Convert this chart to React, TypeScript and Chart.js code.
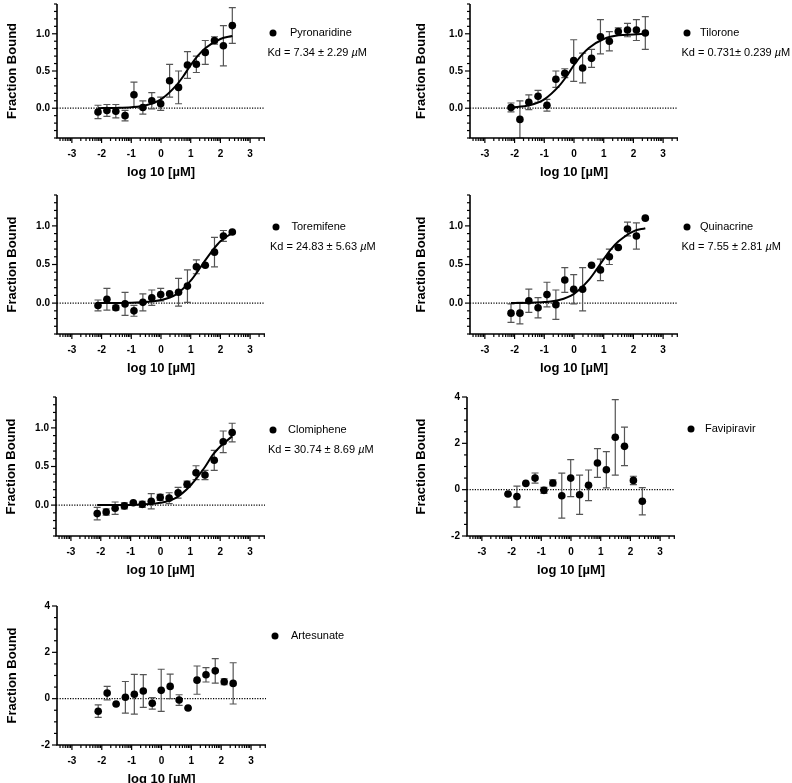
import React, { useEffect, useRef } from "react";
import { Chart, registerables } from "chart.js";
Chart.register(...registerables);

// ---- data ----
const logConc = [-2.12, -1.82, -1.52, -1.21, -0.91, -0.61, -0.31, -0.01, 0.29, 0.59, 0.89, 1.19, 1.49, 1.8, 2.1, 2.4];

const pyronaridineY = [-0.05, -0.03, -0.04, -0.1, 0.18, 0.01, 0.1, 0.06, 0.37, 0.28, 0.58, 0.59, 0.75, 0.91, 0.84, 1.11];
const pyronaridineErr = [0.09, 0.08, 0.09, 0.07, 0.17, 0.09, 0.11, 0.09, 0.22, 0.22, 0.18, 0.11, 0.16, 0.05, 0.27, 0.24];
const pyronaridineCurveX = [-2.12, -1.5, -1, -0.5, 0, 0.5, 0.75, 1, 1.25, 1.5, 2, 2.4];
const pyronaridineCurveY = [0.001, 0.004, 0.013, 0.041, 0.12, 0.3, 0.43, 0.58, 0.71, 0.81, 0.93, 0.97];

const tiloroneY = [0.01, -0.15, 0.08, 0.16, 0.04, 0.39, 0.47, 0.64, 0.54, 0.67, 0.96, 0.9, 1.03, 1.05, 1.05, 1.01];
const tiloroneErr = [0.06, 0.25, 0.1, 0.08, 0.08, 0.11, 0.06, 0.28, 0.2, 0.12, 0.23, 0.13, 0.05, 0.09, 0.14, 0.22];
const tiloroneCurveX = [-2.12, -1.5, -1, -0.5, -0.25, 0, 0.25, 0.5, 1, 1.5, 2, 2.4];
const tiloroneCurveY = [0.01, 0.04, 0.12, 0.3, 0.43, 0.58, 0.71, 0.81, 0.93, 0.98, 0.99, 1.0];

const toremifeneY = [-0.03, 0.05, -0.06, -0.01, -0.1, 0.01, 0.07, 0.11, 0.12, 0.14, 0.22, 0.47, 0.49, 0.66, 0.87, 0.92];
const toremifeneErr = [0.07, 0.14, 0.03, 0.15, 0.07, 0.11, 0.1, 0.08, 0.01, 0.18, 0.21, 0.09, 0.01, 0.19, 0.07, 0.01];
const toremifeneCurveX = [-2.12, -1, 0, 0.5, 1, 1.25, 1.5, 1.75, 2, 2.4];
const toremifeneCurveY = [0.0, 0.004, 0.04, 0.11, 0.29, 0.42, 0.56, 0.69, 0.8, 0.91];

const quinacrineY = [-0.13, -0.13, 0.03, -0.06, 0.11, -0.02, 0.3, 0.18, 0.18, 0.49, 0.43, 0.6, 0.72, 0.96, 0.87, 1.1];
const quinacrineErr = [0.12, 0.14, 0.15, 0.13, 0.16, 0.19, 0.16, 0.19, 0.28, 0.01, 0.14, 0.1, 0.01, 0.09, 0.17, 0.01];
const quinacrineCurveX = [-2.12, -1.5, -1, -0.5, 0, 0.5, 0.75, 1, 1.25, 1.5, 2, 2.4];
const quinacrineCurveY = [0.001, 0.004, 0.013, 0.04, 0.12, 0.3, 0.43, 0.57, 0.7, 0.8, 0.93, 0.97];

const clomipheneY = [-0.11, -0.09, -0.04, -0.01, 0.03, 0.01, 0.05, 0.1, 0.09, 0.16, 0.27, 0.42, 0.39, 0.58, 0.82, 0.94];
const clomipheneErr = [0.08, 0.04, 0.08, 0.04, 0.01, 0.04, 0.1, 0.04, 0.07, 0.07, 0.04, 0.09, 0.06, 0.13, 0.14, 0.12];
const clomipheneCurveX = [-2.12, -1, 0, 0.5, 1, 1.25, 1.5, 1.75, 2, 2.4];
const clomipheneCurveY = [0.0, 0.003, 0.03, 0.09, 0.25, 0.37, 0.5, 0.65, 0.76, 0.89];

const favipiravirY = [-0.19, -0.3, 0.27, 0.5, -0.03, 0.29, -0.26, 0.5, -0.22, 0.19, 1.15, 0.86, 2.26, 1.87, 0.4, -0.5];
const favipiravirErr = [0.02, 0.45, 0.02, 0.22, 0.13, 0.13, 0.97, 0.8, 0.85, 0.66, 0.62, 0.78, 1.63, 0.83, 0.18, 0.59];

const artesunateY = [-0.54, 0.24, -0.23, 0.06, 0.19, 0.33, -0.2, 0.36, 0.53, -0.06, -0.4, 0.8, 1.03, 1.2, 0.73, 0.66];
const artesunateErr = [0.27, 0.29, 0.02, 0.68, 0.86, 0.71, 0.25, 0.91, 0.53, 0.23, 0.02, 0.61, 0.31, 0.53, 0.13, 0.89];

const xMajorTicks = [-3, -2, -1, 0, 1, 2, 3];
const xMinorOffsets = [0.301, 0.477, 0.602, 0.699, 0.778, 0.845, 0.903, 0.954];
const fracTicks = [0, 0.5, 1.0];
const fracLabels = ["0.0", "0.5", "1.0"];
const wideTicks = [-2, 0, 2, 4];
const wideLabels = ["-2", "0", "2", "4"];

const xTitle = "log 10 [\u00b5M]";
const yTitle = "Fraction Bound";

type Rect = { l: number; t: number; r: number; b: number };
type Panel = {
  name: string;
  values: number[];
  errors: number[];
  curveX?: number[];
  curveY?: number[];
  kd?: string;
  yMin: number;
  yMax: number;
  yMinor: number;
  yMajor: number[];
  yLabels: string[];
  plot: Rect;
  yTitleX: number;
  legend: { dotX: number; dotY: number; textX: number; kdX?: number; kdY?: number };
};

const panels: Panel[] = [
  {
    name: "Pyronaridine", values: pyronaridineY, errors: pyronaridineErr,
    curveX: pyronaridineCurveX, curveY: pyronaridineCurveY, kd: "Kd = 7.34 \u00b1 2.29 ",
    yMin: -0.4, yMax: 1.4, yMinor: 0.1, yMajor: fracTicks, yLabels: fracLabels,
    plot: { l: 57, t: 1, r: 265, b: 138 }, yTitleX: 12,
    legend: { dotX: 273, dotY: 33, textX: 290, kdX: 267.5, kdY: 53 },
  },
  {
    name: "Tilorone", values: tiloroneY, errors: tiloroneErr,
    curveX: tiloroneCurveX, curveY: tiloroneCurveY, kd: "Kd = 0.731\u00b1 0.239 ",
    yMin: -0.4, yMax: 1.4, yMinor: 0.1, yMajor: fracTicks, yLabels: fracLabels,
    plot: { l: 470, t: 1, r: 678, b: 138 }, yTitleX: 421,
    legend: { dotX: 687, dotY: 33, textX: 700, kdX: 681.5, kdY: 53 },
  },
  {
    name: "Toremifene", values: toremifeneY, errors: toremifeneErr,
    curveX: toremifeneCurveX, curveY: toremifeneCurveY, kd: "Kd = 24.83 \u00b1 5.63 ",
    yMin: -0.4, yMax: 1.4, yMinor: 0.1, yMajor: fracTicks, yLabels: fracLabels,
    plot: { l: 57, t: 195, r: 265, b: 334 }, yTitleX: 12,
    legend: { dotX: 276, dotY: 227, textX: 291.5, kdX: 270, kdY: 247 },
  },
  {
    name: "Quinacrine", values: quinacrineY, errors: quinacrineErr,
    curveX: quinacrineCurveX, curveY: quinacrineCurveY, kd: "Kd = 7.55 \u00b1 2.81 ",
    yMin: -0.4, yMax: 1.4, yMinor: 0.1, yMajor: fracTicks, yLabels: fracLabels,
    plot: { l: 470, t: 195, r: 678, b: 334 }, yTitleX: 421,
    legend: { dotX: 687, dotY: 227, textX: 700, kdX: 681.5, kdY: 247 },
  },
  {
    name: "Clomiphene", values: clomipheneY, errors: clomipheneErr,
    curveX: clomipheneCurveX, curveY: clomipheneCurveY, kd: "Kd = 30.74 \u00b1 8.69 ",
    yMin: -0.4, yMax: 1.4, yMinor: 0.1, yMajor: fracTicks, yLabels: fracLabels,
    plot: { l: 56, t: 397, r: 265, b: 536 }, yTitleX: 11,
    legend: { dotX: 273, dotY: 430, textX: 288, kdX: 268, kdY: 450 },
  },
  {
    name: "Favipiravir", values: favipiravirY, errors: favipiravirErr,
    yMin: -2, yMax: 4, yMinor: 0.5, yMajor: wideTicks, yLabels: wideLabels,
    plot: { l: 467, t: 397, r: 675, b: 536 }, yTitleX: 421,
    legend: { dotX: 691, dotY: 429, textX: 705 },
  },
  {
    name: "Artesunate", values: artesunateY, errors: artesunateErr,
    yMin: -2, yMax: 4, yMinor: 0.5, yMajor: wideTicks, yLabels: wideLabels,
    plot: { l: 57, t: 606, r: 266, b: 745 }, yTitleX: 12,
    legend: { dotX: 275, dotY: 636, textX: 291 },
  },
];

const W = 792;
const H = 783;
const FONT = "'Liberation Sans', Arial, Helvetica, sans-serif";

function makePlugin(p: Panel) {
  return {
    id: "panelDecor",
    beforeDatasetsDraw(chart: any) {
      const { ctx, chartArea } = chart;
      const xs = chart.scales.x;
      const ys = chart.scales.y;
      ctx.save();
      // zero dotted line
      const y0 = ys.getPixelForValue(0);
      ctx.strokeStyle = "#000";
      ctx.lineWidth = 1.2;
      ctx.setLineDash([1.2, 1.4]);
      ctx.beginPath();
      ctx.moveTo(chartArea.left, y0);
      ctx.lineTo(chartArea.right, y0);
      ctx.stroke();
      ctx.setLineDash([]);
      // error bars
      ctx.strokeStyle = "#555";
      ctx.lineWidth = 1.2;
      p.values.forEach((v, i) => {
        const e = p.errors[i];
        const px = xs.getPixelForValue(logConc[i]);
        const top = ys.getPixelForValue(v + e);
        const bot = ys.getPixelForValue(v - e);
        ctx.beginPath();
        ctx.moveTo(px, top);
        ctx.lineTo(px, bot);
        ctx.moveTo(px - 3.5, top);
        ctx.lineTo(px + 3.5, top);
        ctx.moveTo(px - 3.5, bot);
        ctx.lineTo(px + 3.5, bot);
        ctx.stroke();
      });
      ctx.restore();
    },
    afterDraw(chart: any) {
      const { ctx, chartArea } = chart;
      const xs = chart.scales.x;
      const ys = chart.scales.y;
      const { left, right, top, bottom } = chartArea;
      ctx.save();
      ctx.strokeStyle = "#000";
      ctx.fillStyle = "#000";
      // axes
      ctx.lineWidth = 1.6;
      ctx.beginPath();
      ctx.moveTo(left, top);
      ctx.lineTo(left, bottom);
      ctx.lineTo(right, bottom);
      ctx.stroke();
      // y ticks
      ctx.lineWidth = 1.2;
      const nY = Math.round((p.yMax - p.yMin) / p.yMinor);
      for (let k = 0; k <= nY; k++) {
        const v = p.yMin + k * p.yMinor;
        const isMajor = p.yMajor.some((m) => Math.abs(m - v) < 1e-6);
        const py = ys.getPixelForValue(v);
        ctx.beginPath();
        ctx.moveTo(left, py);
        ctx.lineTo(left - (isMajor ? 5 : 3), py);
        ctx.stroke();
      }
      // x ticks
      xMajorTicks.forEach((v) => {
        const px = xs.getPixelForValue(v);
        ctx.beginPath();
        ctx.moveTo(px, bottom);
        ctx.lineTo(px, bottom + 5);
        ctx.stroke();
      });
      for (let k = -4; k <= 3; k++) {
        xMinorOffsets.forEach((o) => {
          const v = k + o;
          if (v < xs.min || v > xs.max) return;
          const px = xs.getPixelForValue(v);
          ctx.beginPath();
          ctx.moveTo(px, bottom);
          ctx.lineTo(px, bottom + 3);
          ctx.stroke();
        });
      }
      // tick labels
      ctx.font = `bold 10px ${FONT}`;
      ctx.textBaseline = "middle";
      ctx.textAlign = "right";
      p.yMajor.forEach((v, i) => {
        ctx.fillText(p.yLabels[i], left - 7, ys.getPixelForValue(v));
      });
      ctx.textAlign = "center";
      xMajorTicks.forEach((v) => {
        ctx.fillText(String(v), xs.getPixelForValue(v), bottom + 16);
      });
      // titles
      ctx.font = `bold 13px ${FONT}`;
      ctx.fillText(xTitle, xs.getPixelForValue(0), bottom + 34.5);
      ctx.save();
      ctx.translate(p.yTitleX, (top + bottom) / 2);
      ctx.rotate(-Math.PI / 2);
      ctx.fillText(yTitle, 0, 0);
      ctx.restore();
      // legend
      const lg = p.legend;
      ctx.beginPath();
      ctx.arc(lg.dotX, lg.dotY, 3.5, 0, Math.PI * 2);
      ctx.fill();
      ctx.font = `11px ${FONT}`;
      ctx.textAlign = "left";
      ctx.fillText(p.name, lg.textX, lg.dotY);
      if (p.kd && lg.kdX !== undefined && lg.kdY !== undefined) {
        let x = lg.kdX;
        ctx.fillText(p.kd, x, lg.kdY);
        x += ctx.measureText(p.kd).width;
        ctx.font = `italic 11px ${FONT}`;
        ctx.fillText("\u00b5", x, lg.kdY);
        x += ctx.measureText("\u00b5").width;
        ctx.font = `11px ${FONT}`;
        ctx.fillText("M", x, lg.kdY);
      }
      ctx.restore();
    },
  };
}

function PanelChart({ panel }: { panel: Panel }) {
  const ref = useRef<HTMLCanvasElement>(null);
  useEffect(() => {
    const p = panel;
    const datasets: any[] = [
      {
        type: "scatter",
        data: p.values.map((v, i) => ({ x: logConc[i], y: v })),
        backgroundColor: "#000",
        borderWidth: 0,
        pointRadius: 3.8,
        order: 0,
        clip: false,
      },
    ];
    if (p.curveX && p.curveY) {
      const cy = p.curveY;
      datasets.push({
        type: "line",
        data: p.curveX.map((x, i) => ({ x, y: cy[i] })),
        borderColor: "#000",
        borderWidth: 2,
        pointRadius: 0,
        fill: false,
        cubicInterpolationMode: "monotone",
        order: 1,
      });
    }
    const chart = new Chart(ref.current as HTMLCanvasElement, {
      type: "scatter",
      data: { datasets },
      options: {
        animation: false,
        responsive: false,
        events: [],
        layout: {
          padding: { left: p.plot.l, top: p.plot.t, right: W - p.plot.r, bottom: H - p.plot.b },
        },
        plugins: { legend: { display: false }, tooltip: { enabled: false } },
        scales: {
          x: { type: "linear", min: -3.5, max: 3.5, display: false },
          y: { type: "linear", min: p.yMin, max: p.yMax, display: false },
        },
      } as any,
      plugins: [makePlugin(p)],
    } as any);
    return () => chart.destroy();
  }, [panel]);
  return (
    <canvas
      ref={ref}
      width={W}
      height={H}
      style={{ position: "absolute", left: 0, top: 0, width: W, height: H }}
    />
  );
}

export default function App() {
  return (
    <div style={{ position: "absolute", left: 0, top: 0, width: W, height: H, background: "#fff" }}>
      {panels.map((p) => (
        <PanelChart key={p.name} panel={p} />
      ))}
    </div>
  );
}
